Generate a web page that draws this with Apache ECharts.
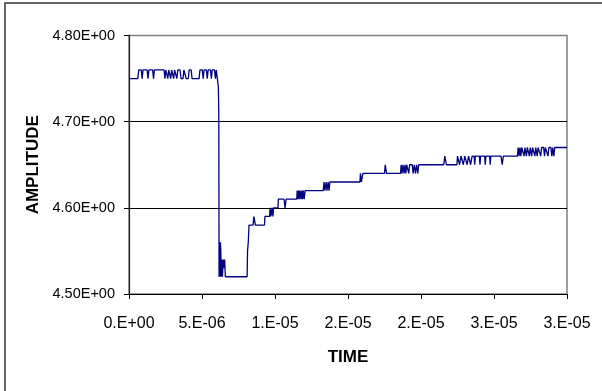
<!DOCTYPE html>
<html>
<head>
<meta charset="utf-8">
<script src="https://cdn.jsdelivr.net/npm/echarts@6/dist/echarts.min.js"></script>
<style>
  html, body { margin: 0; padding: 0; background: #ffffff; }
  #chart { width: 602px; height: 391px; }
</style>
</head>
<body>
<div id="chart"></div>
<script>
// Sample times in microseconds
const timeMicros = [
  0.00, 0.60, 0.67, 0.84, 0.90, 0.96, 1.24, 1.30, 1.36, 1.62, 1.68, 1.74,
  2.40, 2.46, 2.52, 2.66, 2.72, 2.86, 2.92, 3.06, 3.12, 3.28, 3.34, 3.50,
  3.56, 3.70, 3.76, 3.86, 3.92, 4.06, 4.12, 4.26, 4.32, 4.80, 4.86, 5.02,
  5.08, 5.14, 5.30, 5.36, 5.42, 5.58, 5.64, 5.70, 5.86, 5.92, 5.98, 6.08,
  6.12, 6.15, 6.17, 6.20, 6.23, 6.26, 6.29, 6.31, 6.36, 6.40, 6.45, 6.50,
  6.55, 6.60, 6.70, 8.09, 8.12, 8.17, 8.22, 8.50, 8.55, 8.60, 8.66, 9.28,
  9.31, 9.63, 9.66, 9.72, 9.80, 9.86, 9.90, 10.20, 10.23, 10.62, 10.69, 10.76,
  11.49, 11.52, 11.56, 11.62, 11.66, 11.72, 11.78, 11.84, 11.88, 11.94, 12.00, 12.06,
  13.30, 13.36, 13.42, 13.50, 13.56, 13.64, 13.70, 13.76, 15.82, 15.85, 15.92, 16.02,
  17.50, 17.55, 17.60, 17.64, 18.60, 18.64, 18.70, 18.76, 18.84, 18.90, 18.96, 19.02,
  19.10, 19.16, 19.22, 19.40, 19.46, 19.54, 19.62, 19.70, 19.78, 19.84, 21.56, 21.63,
  21.68, 21.74, 22.46, 22.50, 22.64, 22.74, 22.90, 23.00, 23.16, 23.26, 23.40, 23.50,
  23.64, 23.68, 23.72, 24.00, 24.04, 24.08, 24.36, 24.40, 24.44, 24.70, 24.74, 24.78,
  25.48, 25.56, 25.64, 26.60, 26.66, 26.72, 26.78, 26.84, 26.90, 27.00, 27.06, 27.12,
  27.22, 27.28, 27.36, 27.42, 27.48, 27.58, 27.64, 27.74, 27.80, 27.86, 27.96, 28.02,
  28.14, 28.20, 28.26, 28.40, 28.46, 28.52, 28.64, 28.70, 28.76, 28.90, 28.96, 29.02,
  29.10, 29.16, 30.00
];

// Measured amplitude at each sample
const amplitude = [
  4.75, 4.75, 4.76, 4.76, 4.75, 4.76, 4.76, 4.75, 4.76, 4.76, 4.75, 4.76,
  4.76, 4.75, 4.76, 4.75, 4.76, 4.75, 4.76, 4.75, 4.76, 4.75, 4.76, 4.76,
  4.75, 4.75, 4.76, 4.76, 4.75, 4.75, 4.76, 4.76, 4.75, 4.75, 4.76, 4.76,
  4.75, 4.76, 4.76, 4.75, 4.76, 4.76, 4.75, 4.76, 4.76, 4.75, 4.76, 4.76,
  4.74, 4.71, 4.52, 4.56, 4.52, 4.56, 4.55, 4.52, 4.54, 4.52, 4.54, 4.53,
  4.54, 4.52, 4.52, 4.52, 4.55, 4.56, 4.58, 4.58, 4.59, 4.59, 4.58, 4.58,
  4.59, 4.59, 4.60, 4.59, 4.60, 4.59, 4.60, 4.60, 4.61, 4.61, 4.60, 4.61,
  4.61, 4.62, 4.61, 4.62, 4.61, 4.62, 4.61, 4.62, 4.61, 4.62, 4.61, 4.62,
  4.62, 4.63, 4.62, 4.63, 4.62, 4.63, 4.62, 4.63, 4.63, 4.64, 4.63, 4.64,
  4.64, 4.65, 4.65, 4.64, 4.64, 4.65, 4.64, 4.65, 4.64, 4.65, 4.64, 4.65,
  4.65, 4.64, 4.65, 4.65, 4.64, 4.65, 4.64, 4.65, 4.64, 4.65, 4.65, 4.66,
  4.66, 4.65, 4.65, 4.66, 4.65, 4.66, 4.65, 4.66, 4.65, 4.66, 4.65, 4.66,
  4.66, 4.65, 4.66, 4.66, 4.65, 4.66, 4.66, 4.65, 4.66, 4.66, 4.65, 4.66,
  4.66, 4.65, 4.66, 4.66, 4.67, 4.66, 4.67, 4.66, 4.67, 4.67, 4.66, 4.67,
  4.66, 4.67, 4.67, 4.66, 4.67, 4.66, 4.67, 4.67, 4.66, 4.67, 4.66, 4.67,
  4.67, 4.66, 4.67, 4.67, 4.66, 4.67, 4.67, 4.66, 4.67, 4.67, 4.66, 4.67,
  4.66, 4.67, 4.67
];

// Axis tick labels, one per tick
const xTickLabels = ['0.E+00', '5.E-06', '1.E-05', '2.E-05', '2.E-05', '3.E-05', '3.E-05'];
const yTickLabels = ['4.50E+00', '4.60E+00', '4.70E+00', '4.80E+00'];

const X_STEP = 5e-6;
const Y_MIN = 4.5, Y_STEP = 0.1;
const FONT = '"Liberation Sans", Arial, sans-serif';

const seriesData = timeMicros.map((t, i) => [t * 1e-6, amplitude[i]]);

const chart = echarts.init(document.getElementById('chart'), null, { renderer: 'canvas' });

chart.setOption({
  animation: false,
  backgroundColor: '#ffffff',
  grid: {
    left: 129, right: 35, top: 35.5, bottom: 97,
    show: true,
    borderColor: '#808080',
    borderWidth: 1.5,
    backgroundColor: 'transparent'
  },
  xAxis: {
    type: 'value',
    min: 0, max: 3e-5, interval: X_STEP,
    name: 'TIME',
    nameLocation: 'middle',
    nameGap: 55,
    nameTextStyle: { fontFamily: FONT, fontSize: 17, fontWeight: 'bold', color: '#000' },
    axisLine: { show: true, onZero: false, lineStyle: { color: '#000', width: 1 } },
    axisTick: { show: true, inside: false, length: 5, lineStyle: { color: '#000', width: 1 } },
    axisLabel: {
      show: true, margin: 22, color: '#000', fontFamily: FONT, fontSize: 16,
      showMinLabel: true, showMaxLabel: true, hideOverlap: false,
      formatter: v => xTickLabels[Math.round(v / X_STEP)] ?? ''
    },
    splitLine: { show: false }
  },
  yAxis: {
    type: 'value',
    min: Y_MIN, max: 4.8, interval: Y_STEP,
    name: 'AMPLITUDE',
    nameLocation: 'middle',
    nameGap: 87,
    nameRotate: 90,
    nameTextStyle: { fontFamily: FONT, fontSize: 17, fontWeight: 'bold', color: '#000' },
    axisLine: { show: true, onZero: false, lineStyle: { color: '#222', width: 1.2 } },
    axisTick: { show: true, inside: false, length: 5, lineStyle: { color: '#000', width: 1 } },
    axisLabel: {
      show: true, margin: 14, color: '#000', fontFamily: FONT, fontSize: 14.5,
      showMinLabel: true, showMaxLabel: true,
      formatter: v => yTickLabels[Math.round((v - Y_MIN) / Y_STEP)] ?? ''
    },
    splitLine: {
      show: true, showMinLine: false, showMaxLine: false,
      lineStyle: { color: '#000', width: 1 }
    }
  },
  graphic: [{
    type: 'rect',
    silent: true,
    shape: { x: 5, y: 3, width: 660, height: 460 },
    style: { fill: 'none', stroke: '#333', lineWidth: 1.5 }
  }],
  series: [{
    type: 'line',
    data: seriesData,
    showSymbol: false,
    symbol: 'none',
    lineStyle: { color: '#000080', width: 1.3 },
    z: 3
  }]
});
</script>
</body>
</html>
